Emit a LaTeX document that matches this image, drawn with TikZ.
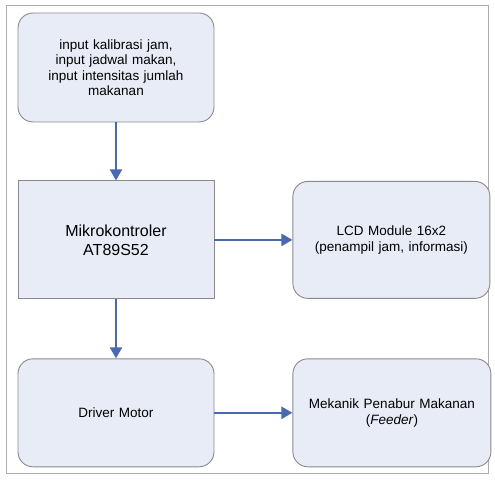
\documentclass[tikz,border=0pt]{standalone}
\usepackage{fontspec}
\setmainfont{Liberation Sans}
\usetikzlibrary{%
    arrows.meta,
    positioning
}
\definecolor{blockfill}{HTML}{E8ECF7}
\definecolor{blockline}{HTML}{8A8A8A}
\definecolor{arrowblue}{HTML}{4A69B0}
\tikzset{headarrow/.style = {-{Triangle[length=11pt,width=12pt]}, line width=2.3pt, arrowblue}}
\tikzset{block/.style = {draw=blockline, line width=0.9pt, fill=blockfill,
    minimum width=196pt, text width=180pt, align=center, inner sep=0pt,
    font=\fontsize{13.5}{15.5}\selectfont}}
\tikzset{roundblock/.style = {block, rounded corners=15pt}}

\begin{document}
\begin{tikzpicture}[x=1pt,y=1pt]
    \useasboundingbox (0,0) rectangle (495,480);
    % outer frame
    \draw[blockline!70, line width=0.9pt] (6,7) rectangle (488,475);

    % blocks
    \node[roundblock, minimum height=109pt] (Input) at (116,412.5)
        {input kalibrasi jam,\\ input jadwal makan,\\ input intensitas jumlah\\ makanan};
    \node[block, minimum height=118pt, font=\fontsize{16}{19}\selectfont] (Mikro) [below=58pt of Input]
        {Mikrokontroler\\ AT89S52};
    \node[roundblock, minimum height=117pt, minimum width=197pt] (LCD) [right=78pt of Mikro]
        {LCD Module 16x2\\ (penampil jam, informasi)};
    \node[roundblock, minimum height=108pt] (Driver) [below=59pt of Mikro]
        {Driver Motor};
    \node[roundblock, minimum height=108pt, minimum width=198pt] (Feeder) [right=78pt of Driver]
        {Mekanik Penabur Makanan\\ (\textit{Feeder})};

    % edges
    \foreach \Source/\Target in {%
        Input/Mikro,
        Mikro/LCD,
        Mikro/Driver,
        Driver/Feeder%
        }
        \draw[headarrow] (\Source) -- (\Target);
\end{tikzpicture}
\end{document}
